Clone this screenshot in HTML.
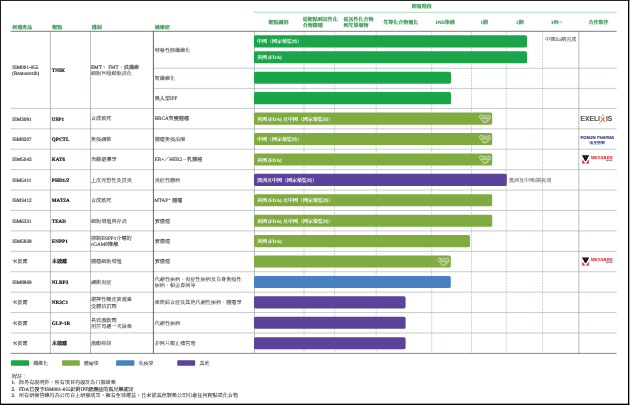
<!DOCTYPE html>
<html lang="zh-TW"><head><meta charset="utf-8"><title>研發管線</title>
<style>html,body{margin:0;padding:0;background:#fff;width:630px;height:405px;overflow:hidden}svg text{white-space:pre}</style></head>
<body>
<svg lang="zh-TW" xml:lang="zh-TW" width="630" height="405" viewBox="0 0 630 405" text-rendering="geometricPrecision" style="display:block;position:absolute;left:0;top:0;will-change:transform">
<rect x="0" y="0" width="630" height="405" fill="#fff"/>
<rect x="0" y="0" width="629.3" height="0.85" fill="#000"/>
<rect x="0" y="0" width="0.9" height="405" fill="#000"/>
<rect x="628" y="0" width="1.3" height="405" fill="#000"/>
<rect x="0" y="403.65" width="629.3" height="1.35" fill="#000"/>
<g stroke="#aeb6b6" stroke-width="0.7" fill="none">
<line x1="10.6" y1="108.4" x2="616.6" y2="108.4"/>
<line x1="10.6" y1="128.82" x2="616.6" y2="128.82"/>
<line x1="10.6" y1="149.23" x2="616.6" y2="149.23"/>
<line x1="10.6" y1="169.65" x2="616.6" y2="169.65"/>
<line x1="10.6" y1="190.07" x2="616.6" y2="190.07"/>
<line x1="10.6" y1="210.48" x2="616.6" y2="210.48"/>
<line x1="10.6" y1="230.9" x2="616.6" y2="230.9"/>
<line x1="10.6" y1="251.32" x2="616.6" y2="251.32"/>
<line x1="10.6" y1="271.73" x2="616.6" y2="271.73"/>
<line x1="10.6" y1="292.15" x2="616.6" y2="292.15"/>
<line x1="10.6" y1="312.57" x2="616.6" y2="312.57"/>
<line x1="10.6" y1="332.98" x2="616.6" y2="332.98"/>
<line x1="153.4" y1="68.3" x2="616.6" y2="68.3"/>
<line x1="153.4" y1="88.4" x2="616.6" y2="88.4"/>
</g>
<g stroke="#a4acac" stroke-width="0.6" stroke-dasharray="1.7 1.0" fill="none">
<line x1="304.0" y1="31.3" x2="304.0" y2="353.4"/>
<line x1="334.6" y1="31.3" x2="334.6" y2="353.4"/>
<line x1="376.2" y1="31.3" x2="376.2" y2="353.4"/>
<line x1="431.7" y1="31.3" x2="431.7" y2="353.4"/>
<line x1="471.5" y1="31.3" x2="471.5" y2="353.4"/>
<line x1="506.3" y1="31.3" x2="506.3" y2="353.4"/>
<line x1="542.6" y1="31.3" x2="542.6" y2="353.4"/>
</g>
<g stroke="#98a0a0" stroke-width="0.7" fill="none">
<line x1="50.4" y1="31.3" x2="50.4" y2="353.4"/>
<line x1="90.5" y1="31.3" x2="90.5" y2="353.4"/>
<line x1="254.4" y1="31.3" x2="254.4" y2="353.4"/>
<line x1="578.8" y1="31.3" x2="578.8" y2="353.4"/>
</g>
<line x1="153.4" y1="31.3" x2="153.4" y2="353.4" stroke="#222" stroke-width="0.7"/>
<line x1="10.6" y1="31.3" x2="616.6" y2="31.3" stroke="#444" stroke-width="0.7"/>
<line x1="10.6" y1="353.4" x2="616.6" y2="353.4" stroke="#555" stroke-width="0.7"/>
<line x1="253.8" y1="12.3" x2="616.6" y2="12.3" stroke="#7cc48a" stroke-width="0.6"/>
<text x="12.3" y="28.6" font-family="'Liberation Serif','Noto Serif CJK SC','Noto Sans CJK TC',serif" font-size="5.0" fill="#2a9145" font-weight="bold" text-anchor="start" stroke="#2a9145" stroke-width="0.1">候選產品</text>
<text x="52.2" y="28.6" font-family="'Liberation Serif','Noto Serif CJK SC','Noto Sans CJK TC',serif" font-size="5.0" fill="#2a9145" font-weight="bold" text-anchor="start" stroke="#2a9145" stroke-width="0.1">靶點</text>
<text x="91.8" y="28.6" font-family="'Liberation Serif','Noto Serif CJK SC','Noto Sans CJK TC',serif" font-size="5.0" fill="#2a9145" font-weight="bold" text-anchor="start" stroke="#2a9145" stroke-width="0.1">機制</text>
<text x="154.8" y="28.6" font-family="'Liberation Serif','Noto Serif CJK SC','Noto Sans CJK TC',serif" font-size="5.0" fill="#2a9145" font-weight="bold" text-anchor="start" stroke="#2a9145" stroke-width="0.1">適應症</text>
<text x="421.7" y="8.4" font-family="'Liberation Serif','Noto Serif CJK SC','Noto Sans CJK TC',serif" font-size="5.0" fill="#2a9145" font-weight="bold" text-anchor="middle" stroke="#2a9145" stroke-width="0.1">開發階段</text>
<text x="278.4" y="23.85" font-family="'Liberation Serif','Noto Serif CJK SC','Noto Sans CJK TC',serif" font-size="5.0" fill="#2a9145" font-weight="bold" text-anchor="middle" stroke="#2a9145" stroke-width="0.1">靶點識別</text>
<text x="302.8" y="21.0" font-family="'Liberation Serif','Noto Serif CJK SC','Noto Sans CJK TC',serif" font-size="5.0" fill="#2a9145" font-weight="bold" text-anchor="start" stroke="#2a9145" stroke-width="0.1">從靶點到活性化</text>
<text x="302.8" y="27.1" font-family="'Liberation Serif','Noto Serif CJK SC','Noto Sans CJK TC',serif" font-size="5.0" fill="#2a9145" font-weight="bold" text-anchor="start" stroke="#2a9145" stroke-width="0.1">合物篩選</text>
<text x="343.4" y="21.0" font-family="'Liberation Serif','Noto Serif CJK SC','Noto Sans CJK TC',serif" font-size="5.0" fill="#2a9145" font-weight="bold" text-anchor="start" stroke="#2a9145" stroke-width="0.1">從活性化合物</text>
<text x="343.4" y="27.1" font-family="'Liberation Serif','Noto Serif CJK SC','Noto Sans CJK TC',serif" font-size="5.0" fill="#2a9145" font-weight="bold" text-anchor="start" stroke="#2a9145" stroke-width="0.1">到先導藥物</text>
<text x="400.7" y="23.85" font-family="'Liberation Serif','Noto Serif CJK SC','Noto Sans CJK TC',serif" font-size="5.0" fill="#2a9145" font-weight="bold" text-anchor="middle" stroke="#2a9145" stroke-width="0.1">先導化合物優化</text>
<text x="445.3" y="23.85" font-family="'Liberation Serif','Noto Serif CJK SC','Noto Sans CJK TC',serif" font-size="5.0" fill="#2a9145" font-weight="bold" text-anchor="middle" stroke="#2a9145" stroke-width="0.1">IND準備</text>
<text x="484.2" y="23.85" font-family="'Liberation Serif','Noto Serif CJK SC','Noto Sans CJK TC',serif" font-size="5.0" fill="#2a9145" font-weight="bold" text-anchor="middle" stroke="#2a9145" stroke-width="0.1">1期</text>
<text x="520.0" y="23.85" font-family="'Liberation Serif','Noto Serif CJK SC','Noto Sans CJK TC',serif" font-size="5.0" fill="#2a9145" font-weight="bold" text-anchor="middle" stroke="#2a9145" stroke-width="0.1">2期</text>
<text x="550.7" y="24.2" font-family="'Liberation Serif','Noto Serif CJK SC','Noto Sans CJK TC',serif" font-size="5" fill="#2a9145" font-weight="bold">3期<tspan font-size="3" dy="-1.6">(1)</tspan></text>
<text x="598.4" y="23.85" font-family="'Liberation Serif','Noto Serif CJK SC','Noto Sans CJK TC',serif" font-size="5.0" fill="#2a9145" font-weight="bold" text-anchor="middle" stroke="#2a9145" stroke-width="0.1">合作夥伴</text>
<text x="12.2" y="68.77" font-family="'Liberation Serif','Noto Serif CJK SC','Noto Sans CJK TC',serif" font-size="5.12" fill="#333" font-weight="normal" text-anchor="start" stroke="#333" stroke-width="0.15">ISM001-055</text>
<text x="12.2" y="74.92" font-family="'Liberation Serif','Noto Serif CJK SC','Noto Sans CJK TC',serif" font-size="5.12" fill="#333" font-weight="normal" text-anchor="start" stroke="#333" stroke-width="0.15">(Rentosertib)</text>
<text x="51.8" y="71.89" font-family="'Liberation Serif','Noto Serif CJK SC','Noto Sans CJK TC',serif" font-size="5.12" fill="#111" font-weight="bold" text-anchor="start" stroke="#111" stroke-width="0.16">TNIK</text>
<text x="91.0" y="68.94" font-family="'Liberation Serif','Noto Serif CJK SC','Noto Sans CJK TC',serif" font-size="5.12" fill="#333" font-weight="normal" text-anchor="start" stroke="#333" stroke-width="0.15">EMT</text>
<text x="101.81" y="68.94" font-family="'Noto Sans CJK TC',sans-serif" font-size="5.12" fill="#333" font-weight="normal" text-anchor="start" stroke="#333" stroke-width="0.05">、</text>
<text x="106.93" y="68.94" font-family="'Liberation Serif','Noto Serif CJK SC','Noto Sans CJK TC',serif" font-size="5.12" fill="#333" font-weight="normal" text-anchor="start" stroke="#333" stroke-width="0.1"> FMT、成纖維</text>
<text x="91.0" y="75.09" font-family="'Liberation Serif','Noto Serif CJK SC','Noto Sans CJK TC',serif" font-size="5.12" fill="#333" font-weight="normal" text-anchor="start" stroke="#333" stroke-width="0.05">細胞巨噬細胞活化</text>
<text x="12.2" y="120.65" font-family="'Liberation Serif','Noto Serif CJK SC','Noto Sans CJK TC',serif" font-size="5.12" fill="#333" font-weight="normal" text-anchor="start" stroke="#333" stroke-width="0.15">ISM3091</text>
<text x="51.8" y="120.65" font-family="'Liberation Serif','Noto Serif CJK SC','Noto Sans CJK TC',serif" font-size="5.12" fill="#111" font-weight="bold" text-anchor="start" stroke="#111" stroke-width="0.16">USP1</text>
<text x="91.0" y="120.47" font-family="'Liberation Serif','Noto Serif CJK SC','Noto Sans CJK TC',serif" font-size="5.12" fill="#333" font-weight="normal" text-anchor="start" stroke="#333" stroke-width="0.05">合成致死</text>
<text x="154.7" y="120.47" font-family="'Liberation Serif','Noto Serif CJK SC','Noto Sans CJK TC',serif" font-size="5.12" fill="#333" font-weight="normal" text-anchor="start" stroke="#333" stroke-width="0.1">BRCA突變腫瘤</text>
<text x="12.2" y="141.06" font-family="'Liberation Serif','Noto Serif CJK SC','Noto Sans CJK TC',serif" font-size="5.12" fill="#333" font-weight="normal" text-anchor="start" stroke="#333" stroke-width="0.15">ISM8207</text>
<text x="51.8" y="141.06" font-family="'Liberation Serif','Noto Serif CJK SC','Noto Sans CJK TC',serif" font-size="5.12" fill="#111" font-weight="bold" text-anchor="start" stroke="#111" stroke-width="0.16">QPCTL</text>
<text x="91.0" y="140.88" font-family="'Liberation Serif','Noto Serif CJK SC','Noto Sans CJK TC',serif" font-size="5.12" fill="#333" font-weight="normal" text-anchor="start" stroke="#333" stroke-width="0.05">免疫調節</text>
<text x="154.7" y="140.88" font-family="'Liberation Serif','Noto Serif CJK SC','Noto Sans CJK TC',serif" font-size="5.12" fill="#333" font-weight="normal" text-anchor="start" stroke="#333" stroke-width="0.05">腫瘤免疫治療</text>
<text x="12.2" y="161.48" font-family="'Liberation Serif','Noto Serif CJK SC','Noto Sans CJK TC',serif" font-size="5.12" fill="#333" font-weight="normal" text-anchor="start" stroke="#333" stroke-width="0.15">ISM5043</text>
<text x="51.8" y="161.48" font-family="'Liberation Serif','Noto Serif CJK SC','Noto Sans CJK TC',serif" font-size="5.12" fill="#111" font-weight="bold" text-anchor="start" stroke="#111" stroke-width="0.16">KAT6</text>
<text x="91.0" y="161.3" font-family="'Liberation Serif','Noto Serif CJK SC','Noto Sans CJK TC',serif" font-size="5.12" fill="#333" font-weight="normal" text-anchor="start" stroke="#333" stroke-width="0.05">表觀遺傳學</text>
<text x="154.7" y="161.3" font-family="'Liberation Serif','Noto Serif CJK SC','Noto Sans CJK TC',serif" font-size="5.12" fill="#333" font-weight="normal" text-anchor="start" stroke="#333" stroke-width="0.108">ER+／HER2－乳腺癌</text>
<text x="12.2" y="181.9" font-family="'Liberation Serif','Noto Serif CJK SC','Noto Sans CJK TC',serif" font-size="5.12" fill="#333" font-weight="normal" text-anchor="start" stroke="#333" stroke-width="0.15">ISM5411</text>
<text x="51.8" y="181.9" font-family="'Liberation Serif','Noto Serif CJK SC','Noto Sans CJK TC',serif" font-size="5.12" fill="#111" font-weight="bold" text-anchor="start" stroke="#111" stroke-width="0.16">PHD1/2</text>
<text x="91.0" y="181.72" font-family="'Liberation Serif','Noto Serif CJK SC','Noto Sans CJK TC',serif" font-size="5.12" fill="#333" font-weight="normal" text-anchor="start" stroke="#333" stroke-width="0.05">上皮完整性及抗炎</text>
<text x="154.7" y="181.72" font-family="'Liberation Serif','Noto Serif CJK SC','Noto Sans CJK TC',serif" font-size="5.12" fill="#333" font-weight="normal" text-anchor="start" stroke="#333" stroke-width="0.05">炎症性腸病</text>
<text x="12.2" y="202.31" font-family="'Liberation Serif','Noto Serif CJK SC','Noto Sans CJK TC',serif" font-size="5.12" fill="#333" font-weight="normal" text-anchor="start" stroke="#333" stroke-width="0.15">ISM3412</text>
<text x="51.8" y="202.31" font-family="'Liberation Serif','Noto Serif CJK SC','Noto Sans CJK TC',serif" font-size="5.12" fill="#111" font-weight="bold" text-anchor="start" stroke="#111" stroke-width="0.16">MAT2A</text>
<text x="91.0" y="202.13" font-family="'Liberation Serif','Noto Serif CJK SC','Noto Sans CJK TC',serif" font-size="5.12" fill="#333" font-weight="normal" text-anchor="start" stroke="#333" stroke-width="0.05">合成致死</text>
<text x="154.3" y="201.72" font-family="'Liberation Serif','Noto Serif CJK SC','Noto Sans CJK TC',serif" font-size="5.12" fill="#333" stroke="#333" stroke-width="0.12">MTAP<tspan font-size="3" dy="-1.8">-/-</tspan><tspan dy="1.8"> 腫瘤</tspan></text>
<text x="12.2" y="222.73" font-family="'Liberation Serif','Noto Serif CJK SC','Noto Sans CJK TC',serif" font-size="5.12" fill="#333" font-weight="normal" text-anchor="start" stroke="#333" stroke-width="0.15">ISM6331</text>
<text x="51.8" y="222.73" font-family="'Liberation Serif','Noto Serif CJK SC','Noto Sans CJK TC',serif" font-size="5.12" fill="#111" font-weight="bold" text-anchor="start" stroke="#111" stroke-width="0.16">TEAD</text>
<text x="91.0" y="222.55" font-family="'Liberation Serif','Noto Serif CJK SC','Noto Sans CJK TC',serif" font-size="5.12" fill="#333" font-weight="normal" text-anchor="start" stroke="#333" stroke-width="0.05">細胞增殖與存活</text>
<text x="154.7" y="222.55" font-family="'Liberation Serif','Noto Serif CJK SC','Noto Sans CJK TC',serif" font-size="5.12" fill="#333" font-weight="normal" text-anchor="start" stroke="#333" stroke-width="0.05">實體瘤</text>
<text x="12.2" y="243.15" font-family="'Liberation Serif','Noto Serif CJK SC','Noto Sans CJK TC',serif" font-size="5.12" fill="#333" font-weight="normal" text-anchor="start" stroke="#333" stroke-width="0.15">ISM5939</text>
<text x="51.8" y="243.15" font-family="'Liberation Serif','Noto Serif CJK SC','Noto Sans CJK TC',serif" font-size="5.12" fill="#111" font-weight="bold" text-anchor="start" stroke="#111" stroke-width="0.16">ENPP1</text>
<text x="91.0" y="240.2" font-family="'Liberation Serif','Noto Serif CJK SC','Noto Sans CJK TC',serif" font-size="5.12" fill="#333" font-weight="normal" text-anchor="start" stroke="#333" stroke-width="0.1">抑制ENPP1介導的</text>
<text x="91.0" y="246.35" font-family="'Liberation Serif','Noto Serif CJK SC','Noto Sans CJK TC',serif" font-size="5.12" fill="#333" font-weight="normal" text-anchor="start" stroke="#333" stroke-width="0.121">cGAMP降解</text>
<text x="154.7" y="242.97" font-family="'Liberation Serif','Noto Serif CJK SC','Noto Sans CJK TC',serif" font-size="5.12" fill="#333" font-weight="normal" text-anchor="start" stroke="#333" stroke-width="0.05">實體瘤</text>
<text x="12.2" y="263.38" font-family="'Liberation Serif','Noto Serif CJK SC','Noto Sans CJK TC',serif" font-size="5.12" fill="#333" font-weight="normal" text-anchor="start" stroke="#333" stroke-width="0.05">未披露</text>
<text x="51.8" y="263.38" font-family="'Liberation Serif','Noto Serif CJK SC','Noto Sans CJK TC',serif" font-size="5.12" fill="#111" font-weight="bold" text-anchor="start" stroke="#111" stroke-width="0.16">未披露</text>
<text x="91.0" y="263.38" font-family="'Liberation Serif','Noto Serif CJK SC','Noto Sans CJK TC',serif" font-size="5.12" fill="#333" font-weight="normal" text-anchor="start" stroke="#333" stroke-width="0.05">腫瘤細胞增殖</text>
<text x="154.7" y="263.38" font-family="'Liberation Serif','Noto Serif CJK SC','Noto Sans CJK TC',serif" font-size="5.12" fill="#333" font-weight="normal" text-anchor="start" stroke="#333" stroke-width="0.05">實體瘤</text>
<text x="12.2" y="283.98" font-family="'Liberation Serif','Noto Serif CJK SC','Noto Sans CJK TC',serif" font-size="5.12" fill="#333" font-weight="normal" text-anchor="start" stroke="#333" stroke-width="0.15">ISM8969</text>
<text x="51.8" y="283.98" font-family="'Liberation Serif','Noto Serif CJK SC','Noto Sans CJK TC',serif" font-size="5.12" fill="#111" font-weight="bold" text-anchor="start" stroke="#111" stroke-width="0.16">NLRP3</text>
<text x="91.0" y="283.8" font-family="'Liberation Serif','Noto Serif CJK SC','Noto Sans CJK TC',serif" font-size="5.12" fill="#333" font-weight="normal" text-anchor="start" stroke="#333" stroke-width="0.05">調節炎症</text>
<text x="154.7" y="281.03" font-family="'Liberation Serif','Noto Serif CJK SC','Noto Sans CJK TC',serif" font-size="5.12" fill="#333" font-weight="normal" text-anchor="start" stroke="#333" stroke-width="0.05">代謝性疾病、炎症性疾病及自身免疫性</text>
<text x="154.7" y="287.18" font-family="'Liberation Serif','Noto Serif CJK SC','Noto Sans CJK TC',serif" font-size="5.12" fill="#333" font-weight="normal" text-anchor="start" stroke="#333" stroke-width="0.05">疾病、帕金森病等</text>
<text x="12.2" y="304.22" font-family="'Liberation Serif','Noto Serif CJK SC','Noto Sans CJK TC',serif" font-size="5.12" fill="#333" font-weight="normal" text-anchor="start" stroke="#333" stroke-width="0.05">未披露</text>
<text x="51.8" y="304.4" font-family="'Liberation Serif','Noto Serif CJK SC','Noto Sans CJK TC',serif" font-size="5.12" fill="#111" font-weight="bold" text-anchor="start" stroke="#111" stroke-width="0.16">NR3C1</text>
<text x="91.0" y="301.45" font-family="'Liberation Serif','Noto Serif CJK SC','Noto Sans CJK TC',serif" font-size="5.12" fill="#333" font-weight="normal" text-anchor="start" stroke="#333" stroke-width="0.05">選擇性糖皮質激素</text>
<text x="91.0" y="307.6" font-family="'Liberation Serif','Noto Serif CJK SC','Noto Sans CJK TC',serif" font-size="5.12" fill="#333" font-weight="normal" text-anchor="start" stroke="#333" stroke-width="0.05">受體拮抗劑</text>
<text x="154.7" y="304.22" font-family="'Liberation Serif','Noto Serif CJK SC','Noto Sans CJK TC',serif" font-size="5.12" fill="#333" font-weight="normal" text-anchor="start" stroke="#333" stroke-width="0.05">庫欣綜合症及其他代謝性疾病、腫瘤學</text>
<text x="12.2" y="324.63" font-family="'Liberation Serif','Noto Serif CJK SC','Noto Sans CJK TC',serif" font-size="5.12" fill="#333" font-weight="normal" text-anchor="start" stroke="#333" stroke-width="0.05">未披露</text>
<text x="51.8" y="324.81" font-family="'Liberation Serif','Noto Serif CJK SC','Noto Sans CJK TC',serif" font-size="5.12" fill="#111" font-weight="bold" text-anchor="start" stroke="#111" stroke-width="0.16">GLP-1R</text>
<text x="91.0" y="321.86" font-family="'Liberation Serif','Noto Serif CJK SC','Noto Sans CJK TC',serif" font-size="5.12" fill="#333" font-weight="normal" text-anchor="start" stroke="#333" stroke-width="0.05">長效激動劑</text>
<text x="91.0" y="328.01" font-family="'Liberation Serif','Noto Serif CJK SC','Noto Sans CJK TC',serif" font-size="5.12" fill="#333" font-weight="normal" text-anchor="start" stroke="#333" stroke-width="0.05">用於每週一次給藥</text>
<text x="154.7" y="324.63" font-family="'Liberation Serif','Noto Serif CJK SC','Noto Sans CJK TC',serif" font-size="5.12" fill="#333" font-weight="normal" text-anchor="start" stroke="#333" stroke-width="0.05">代謝性疾病</text>
<text x="12.2" y="345.05" font-family="'Liberation Serif','Noto Serif CJK SC','Noto Sans CJK TC',serif" font-size="5.12" fill="#333" font-weight="normal" text-anchor="start" stroke="#333" stroke-width="0.05">未披露</text>
<text x="51.8" y="345.05" font-family="'Liberation Serif','Noto Serif CJK SC','Noto Sans CJK TC',serif" font-size="5.12" fill="#111" font-weight="bold" text-anchor="start" stroke="#111" stroke-width="0.16">未披露</text>
<text x="91.0" y="345.05" font-family="'Liberation Serif','Noto Serif CJK SC','Noto Sans CJK TC',serif" font-size="5.12" fill="#333" font-weight="normal" text-anchor="start" stroke="#333" stroke-width="0.05">激酶抑制</text>
<text x="154.7" y="345.05" font-family="'Liberation Serif','Noto Serif CJK SC','Noto Sans CJK TC',serif" font-size="5.12" fill="#333" font-weight="normal" text-anchor="start" stroke="#333" stroke-width="0.05">非阿片類止痛管理</text>
<text x="154.7" y="51.81" font-family="'Liberation Serif','Noto Serif CJK SC','Noto Sans CJK TC',serif" font-size="5.12" fill="#333" font-weight="normal" text-anchor="start" stroke="#333" stroke-width="0.05">特發性肺纖維化</text>
<text x="154.7" y="80.26" font-family="'Liberation Serif','Noto Serif CJK SC','Noto Sans CJK TC',serif" font-size="5.12" fill="#333" font-weight="normal" text-anchor="start" stroke="#333" stroke-width="0.05">腎纖維化</text>
<text x="154.7" y="100.16" font-family="'Liberation Serif','Noto Serif CJK SC','Noto Sans CJK TC',serif" font-size="5.12" fill="#333" font-weight="normal" text-anchor="start" stroke="#333" stroke-width="0.1">吸入型IPF</text>
<rect x="254.0" y="35.15" width="273.0" height="12.35" rx="1.6" ry="1.6" fill="#1ba54a"/>
<text x="256.9" y="42.83" font-family="'Liberation Serif','Noto Serif CJK SC','Noto Sans CJK TC',serif" font-size="5.0" fill="#fff" font-weight="bold" text-anchor="start">中國（國家藥監局）</text>
<rect x="254.0" y="51.2" width="273.0" height="12.15" rx="1.6" ry="1.6" fill="#1ba54a"/>
<text x="256.9" y="58.98" font-family="'Liberation Serif','Noto Serif CJK SC','Noto Sans CJK TC',serif" font-size="5.0" fill="#fff" font-weight="bold" text-anchor="start">美國 (FDA)</text>
<rect x="254.0" y="71.8" width="197.0" height="11.85" rx="1.6" ry="1.6" fill="#1ba54a"/>
<rect x="254.0" y="92.1" width="197.0" height="12.25" rx="1.6" ry="1.6" fill="#1ba54a"/>
<rect x="254.0" y="112.56" width="238.2" height="12.1" rx="1.6" ry="1.6" fill="#80ab40"/>
<text x="256.9" y="120.76" font-family="'Liberation Serif','Noto Serif CJK SC','Noto Sans CJK TC',serif" font-size="5.0" fill="#fff" font-weight="bold" text-anchor="start">美國 (FDA) 及中國（國家藥監局）</text>
<g transform="translate(485.0,118.71) scale(0.9,0.96)" fill="none" stroke="#f1f6e6" stroke-width="0.6" stroke-linecap="round" stroke-linejoin="round"><path d="M-6.0,-3.1 L-4.4,-4.3 L-2.8,-0.9 L-4.5,0.3 Z"/><path d="M6.0,-3.0 L4.6,-4.2 L2.9,-1.0 L4.5,0.4 Z"/><path d="M-3.7,-3.0 L-1.2,-3.4 L0.4,-2.7 L1.6,-3.2 L3.6,-2.7"/><path d="M0.4,-2.7 L-1.9,-0.9 Q-1.3,0.2 -0.1,-0.6 L0.9,-1.2 L3.9,1.5 Q4.1,2.5 3.0,2.4"/><path d="M-2.4,-0.3 L2.4,-0.3"/><path d="M-4.0,0.6 L-2.0,3.0 Q-1.0,4.3 0.2,3.9 Q1.3,4.3 1.9,3.4 Q3.1,3.5 3.0,2.4"/><path d="M-3.0,2.5 L-2.0,1.5 M-1.7,3.7 L-0.7,2.7 M-0.2,4.1 L0.7,3.2 M1.0,1.2 L2.2,2.4"/><path d="M4.6,0.5 Q6.0,0.4 5.9,-0.8"/></g>
<rect x="254.0" y="132.97" width="238.2" height="12.1" rx="1.6" ry="1.6" fill="#80ab40"/>
<text x="256.9" y="141.17" font-family="'Liberation Serif','Noto Serif CJK SC','Noto Sans CJK TC',serif" font-size="5.0" fill="#fff" font-weight="bold" text-anchor="start">中國（國家藥監局）</text>
<g transform="translate(485.0,139.12) scale(0.9,0.96)" fill="none" stroke="#f1f6e6" stroke-width="0.6" stroke-linecap="round" stroke-linejoin="round"><path d="M-6.0,-3.1 L-4.4,-4.3 L-2.8,-0.9 L-4.5,0.3 Z"/><path d="M6.0,-3.0 L4.6,-4.2 L2.9,-1.0 L4.5,0.4 Z"/><path d="M-3.7,-3.0 L-1.2,-3.4 L0.4,-2.7 L1.6,-3.2 L3.6,-2.7"/><path d="M0.4,-2.7 L-1.9,-0.9 Q-1.3,0.2 -0.1,-0.6 L0.9,-1.2 L3.9,1.5 Q4.1,2.5 3.0,2.4"/><path d="M-2.4,-0.3 L2.4,-0.3"/><path d="M-4.0,0.6 L-2.0,3.0 Q-1.0,4.3 0.2,3.9 Q1.3,4.3 1.9,3.4 Q3.1,3.5 3.0,2.4"/><path d="M-3.0,2.5 L-2.0,1.5 M-1.7,3.7 L-0.7,2.7 M-0.2,4.1 L0.7,3.2 M1.0,1.2 L2.2,2.4"/><path d="M4.6,0.5 Q6.0,0.4 5.9,-0.8"/></g>
<rect x="254.0" y="153.39" width="238.2" height="12.1" rx="1.6" ry="1.6" fill="#80ab40"/>
<text x="256.9" y="161.59" font-family="'Liberation Serif','Noto Serif CJK SC','Noto Sans CJK TC',serif" font-size="5.0" fill="#fff" font-weight="bold" text-anchor="start">美國 (FDA)</text>
<g transform="translate(485.0,159.54) scale(0.9,0.96)" fill="none" stroke="#f1f6e6" stroke-width="0.6" stroke-linecap="round" stroke-linejoin="round"><path d="M-6.0,-3.1 L-4.4,-4.3 L-2.8,-0.9 L-4.5,0.3 Z"/><path d="M6.0,-3.0 L4.6,-4.2 L2.9,-1.0 L4.5,0.4 Z"/><path d="M-3.7,-3.0 L-1.2,-3.4 L0.4,-2.7 L1.6,-3.2 L3.6,-2.7"/><path d="M0.4,-2.7 L-1.9,-0.9 Q-1.3,0.2 -0.1,-0.6 L0.9,-1.2 L3.9,1.5 Q4.1,2.5 3.0,2.4"/><path d="M-2.4,-0.3 L2.4,-0.3"/><path d="M-4.0,0.6 L-2.0,3.0 Q-1.0,4.3 0.2,3.9 Q1.3,4.3 1.9,3.4 Q3.1,3.5 3.0,2.4"/><path d="M-3.0,2.5 L-2.0,1.5 M-1.7,3.7 L-0.7,2.7 M-0.2,4.1 L0.7,3.2 M1.0,1.2 L2.2,2.4"/><path d="M4.6,0.5 Q6.0,0.4 5.9,-0.8"/></g>
<rect x="254.0" y="173.81" width="252.8" height="12.1" rx="1.6" ry="1.6" fill="#5b439c"/>
<text x="256.9" y="182.01" font-family="'Liberation Serif','Noto Serif CJK SC','Noto Sans CJK TC',serif" font-size="5.0" fill="#fff" font-weight="bold" text-anchor="start">澳洲及中國（國家藥監局）</text>
<rect x="254.0" y="194.22" width="238.2" height="12.1" rx="1.6" ry="1.6" fill="#80ab40"/>
<text x="256.9" y="202.42" font-family="'Liberation Serif','Noto Serif CJK SC','Noto Sans CJK TC',serif" font-size="5.0" fill="#fff" font-weight="bold" text-anchor="start">美國 (FDA) 及中國（國家藥監局）</text>
<rect x="254.0" y="214.64" width="238.2" height="12.1" rx="1.6" ry="1.6" fill="#80ab40"/>
<text x="256.9" y="222.84" font-family="'Liberation Serif','Noto Serif CJK SC','Noto Sans CJK TC',serif" font-size="5.0" fill="#fff" font-weight="bold" text-anchor="start">美國 (FDA) 及中國（國家藥監局）</text>
<rect x="254.0" y="235.06" width="216.0" height="12.1" rx="1.6" ry="1.6" fill="#80ab40"/>
<text x="256.9" y="243.26" font-family="'Liberation Serif','Noto Serif CJK SC','Noto Sans CJK TC',serif" font-size="5.0" fill="#fff" font-weight="bold" text-anchor="start">美國 (FDA)</text>
<rect x="254.0" y="255.47" width="196.8" height="12.1" rx="1.6" ry="1.6" fill="#80ab40"/>
<g transform="translate(443.6,261.62) scale(0.9,0.96)" fill="none" stroke="#f1f6e6" stroke-width="0.6" stroke-linecap="round" stroke-linejoin="round"><path d="M-6.0,-3.1 L-4.4,-4.3 L-2.8,-0.9 L-4.5,0.3 Z"/><path d="M6.0,-3.0 L4.6,-4.2 L2.9,-1.0 L4.5,0.4 Z"/><path d="M-3.7,-3.0 L-1.2,-3.4 L0.4,-2.7 L1.6,-3.2 L3.6,-2.7"/><path d="M0.4,-2.7 L-1.9,-0.9 Q-1.3,0.2 -0.1,-0.6 L0.9,-1.2 L3.9,1.5 Q4.1,2.5 3.0,2.4"/><path d="M-2.4,-0.3 L2.4,-0.3"/><path d="M-4.0,0.6 L-2.0,3.0 Q-1.0,4.3 0.2,3.9 Q1.3,4.3 1.9,3.4 Q3.1,3.5 3.0,2.4"/><path d="M-3.0,2.5 L-2.0,1.5 M-1.7,3.7 L-0.7,2.7 M-0.2,4.1 L0.7,3.2 M1.0,1.2 L2.2,2.4"/><path d="M4.6,0.5 Q6.0,0.4 5.9,-0.8"/></g>
<rect x="254.0" y="275.89" width="196.8" height="12.1" rx="1.6" ry="1.6" fill="#4881c3"/>
<rect x="254.0" y="296.31" width="151.6" height="12.1" rx="1.6" ry="1.6" fill="#5b439c"/>
<rect x="254.0" y="316.72" width="151.6" height="12.1" rx="1.6" ry="1.6" fill="#5b439c"/>
<rect x="254.0" y="337.14" width="151.6" height="12.1" rx="1.6" ry="1.6" fill="#5b439c"/>
<text x="545.0" y="41.1" font-family="'Liberation Serif','Noto Serif CJK SC','Noto Sans CJK TC',serif" font-size="5.15" fill="#4a4a4a" font-weight="normal" text-anchor="start" stroke="#4a4a4a" stroke-width="0.05">中國IIa期完成</text>
<text x="508.8" y="181.5" font-family="'Liberation Serif','Noto Serif CJK SC','Noto Sans CJK TC',serif" font-size="5.1" fill="#555" font-weight="normal" text-anchor="start" stroke="#555" stroke-width="0.04">澳洲及中國I期完成</text>
<text x="580.6" y="121.4" font-family="'Liberation Sans','Noto Sans CJK TC',sans-serif" font-size="7.35" font-weight="bold" fill="#55565a" stroke="#55565a" stroke-width="0.12" textLength="19.2" lengthAdjust="spacingAndGlyphs">EXELI</text>
<text x="602.7" y="121.6" font-family="'Liberation Sans','Noto Sans CJK TC',sans-serif" font-size="7.6" font-weight="bold" fill="#f26a2e" text-anchor="middle" textLength="5.6" lengthAdjust="spacingAndGlyphs">X</text>
<text x="606.0" y="121.4" font-family="'Liberation Sans','Noto Sans CJK TC',sans-serif" font-size="7.35" font-weight="bold" fill="#55565a" stroke="#55565a" stroke-width="0.12" textLength="6.3" lengthAdjust="spacingAndGlyphs">IS</text>
<circle cx="602.9" cy="115.2" r="0.8" fill="#f26a2e"/>
<path d="M600.6,122.0 L599.2,123.7" stroke="#f26a2e" stroke-width="0.5" fill="none" stroke-linecap="round"/>
<text x="580.5" y="139.2" font-family="'Liberation Sans','Noto Sans CJK TC',sans-serif" font-size="4.3" fill="#202d7c" font-weight="bold" textLength="15.1" lengthAdjust="spacingAndGlyphs" stroke="#202d7c" stroke-width="0.1">FOSUN</text>
<text x="597.0" y="139.2" font-family="'Liberation Sans','Noto Sans CJK TC',sans-serif" font-size="4.3" fill="#202d7c" stroke="#202d7c" stroke-width="0.16" font-style="italic" textLength="17.0" lengthAdjust="spacingAndGlyphs">PHARMA</text>
<text x="589.3" y="143.5" font-family="'Liberation Sans','Noto Sans CJK TC',sans-serif" font-size="3.7" fill="#202d7c" font-weight="500" textLength="15.6" lengthAdjust="spacingAndGlyphs">復星醫藥</text>
<g transform="translate(581.7,155.0)"><rect x="0" y="0" width="7.75" height="8.7" fill="#fff" stroke="#c8c8c8" stroke-width="0.25"/><path d="M0.3,0.3 L7.45,0.3 L4.5,5.9 L3.3,5.9 Z" fill="#111"/><path d="M0.7,8.5 L0.7,4.6 L3.5,8.5 Z M7.05,8.5 L7.05,4.6 L4.25,8.5 Z" fill="#d9232b"/><path d="M3.85,0.3 L3.85,2.8" stroke="#777" stroke-width="0.45"/></g>
<text x="590.7" y="158.5" font-family="'Liberation Serif','Noto Serif CJK SC','Noto Sans CJK TC',serif" font-size="4.6" fill="#d9232b" stroke="#d9232b" stroke-width="0.1" font-weight="bold" textLength="22.0" lengthAdjust="spacingAndGlyphs">MENARINI</text>
<line x1="590.7" y1="159.1" x2="612.7" y2="159.1" stroke="#e8868a" stroke-width="0.3"/>
<text x="612.4" y="160.5" font-family="'Liberation Sans','Noto Sans CJK TC',sans-serif" font-size="2.3" fill="#333" font-style="italic" font-weight="bold" text-anchor="end">group</text>
<g transform="translate(581.7,257.1)"><rect x="0" y="0" width="7.75" height="8.7" fill="#fff" stroke="#c8c8c8" stroke-width="0.25"/><path d="M0.3,0.3 L7.45,0.3 L4.5,5.9 L3.3,5.9 Z" fill="#111"/><path d="M0.7,8.5 L0.7,4.6 L3.5,8.5 Z M7.05,8.5 L7.05,4.6 L4.25,8.5 Z" fill="#d9232b"/><path d="M3.85,0.3 L3.85,2.8" stroke="#777" stroke-width="0.45"/></g>
<text x="590.7" y="260.6" font-family="'Liberation Serif','Noto Serif CJK SC','Noto Sans CJK TC',serif" font-size="4.6" fill="#d9232b" stroke="#d9232b" stroke-width="0.1" font-weight="bold" textLength="22.0" lengthAdjust="spacingAndGlyphs">MENARINI</text>
<line x1="590.7" y1="261.2" x2="612.7" y2="261.2" stroke="#e8868a" stroke-width="0.3"/>
<text x="612.4" y="262.6" font-family="'Liberation Sans','Noto Sans CJK TC',sans-serif" font-size="2.3" fill="#333" font-style="italic" font-weight="bold" text-anchor="end">group</text>
<rect x="10.9" y="360.2" width="18.3" height="5.6" rx="0.8" fill="#1ba54a"/>
<text x="33.2" y="364.7" font-family="'Liberation Serif','Noto Serif CJK SC','Noto Sans CJK TC',serif" font-size="5.0" fill="#333" font-weight="normal" text-anchor="start" stroke="#333" stroke-width="0.05">纖維化</text>
<rect x="62.1" y="360.2" width="17.7" height="5.6" rx="0.8" fill="#80ab40"/>
<text x="83.7" y="364.7" font-family="'Liberation Serif','Noto Serif CJK SC','Noto Sans CJK TC',serif" font-size="5.0" fill="#333" font-weight="normal" text-anchor="start" stroke="#333" stroke-width="0.05">腫瘤學</text>
<rect x="116.1" y="360.2" width="18.3" height="5.6" rx="0.8" fill="#4881c3"/>
<text x="138.6" y="364.7" font-family="'Liberation Serif','Noto Serif CJK SC','Noto Sans CJK TC',serif" font-size="5.0" fill="#333" font-weight="normal" text-anchor="start" stroke="#333" stroke-width="0.05">免疫學</text>
<rect x="177.2" y="360.2" width="18.0" height="5.6" rx="0.8" fill="#5b439c"/>
<text x="199.5" y="364.7" font-family="'Liberation Serif','Noto Serif CJK SC','Noto Sans CJK TC',serif" font-size="5.0" fill="#333" font-weight="normal" text-anchor="start" stroke="#333" stroke-width="0.05">其他</text>
<text x="11.2" y="377.8" font-family="'Liberation Serif','Noto Serif CJK SC','Noto Sans CJK TC',serif" font-size="5.1" fill="#333" font-weight="normal" text-anchor="start" font-style="italic" stroke="#333" stroke-width="0.05">附註：</text>
<text x="11.4" y="384.35" font-family="'Liberation Serif','Noto Serif CJK SC','Noto Sans CJK TC',serif" font-size="5.1" fill="#222" font-weight="normal" text-anchor="start" stroke="#222" stroke-width="0.15">1.</text>
<text x="19.0" y="384.35" font-family="'Liberation Serif','Noto Serif CJK SC','Noto Sans CJK TC',serif" font-size="5.1" fill="#222" font-weight="normal" text-anchor="start" stroke="#222" stroke-width="0.05">除另有說明外，所有項目均設計為口服給藥</text>
<text x="11.4" y="390.65" font-family="'Liberation Serif','Noto Serif CJK SC','Noto Sans CJK TC',serif" font-size="5.1" fill="#222" font-weight="normal" text-anchor="start" stroke="#222" stroke-width="0.15">2.</text>
<text x="19.0" y="390.65" font-family="'Liberation Serif','Noto Serif CJK SC','Noto Sans CJK TC',serif" font-size="5.1" fill="#222" font-weight="normal" text-anchor="start" stroke="#222" stroke-width="0.103">FDA已授予ISM001-055針對IPF適應症的孤兒藥認定</text>
<text x="11.4" y="396.95" font-family="'Liberation Serif','Noto Serif CJK SC','Noto Sans CJK TC',serif" font-size="5.1" fill="#222" font-weight="normal" text-anchor="start" stroke="#222" stroke-width="0.15">3.</text>
<text x="19.0" y="396.95" font-family="'Liberation Serif','Noto Serif CJK SC','Noto Sans CJK TC',serif" font-size="5.1" fill="#222" font-weight="normal" text-anchor="start" stroke="#222" stroke-width="0.05">所有研發管線均為公司自主研發成果，擁有全球權益，且未從其他製藥公司引進任何靶點或化合物</text>
</svg>
</body></html>
